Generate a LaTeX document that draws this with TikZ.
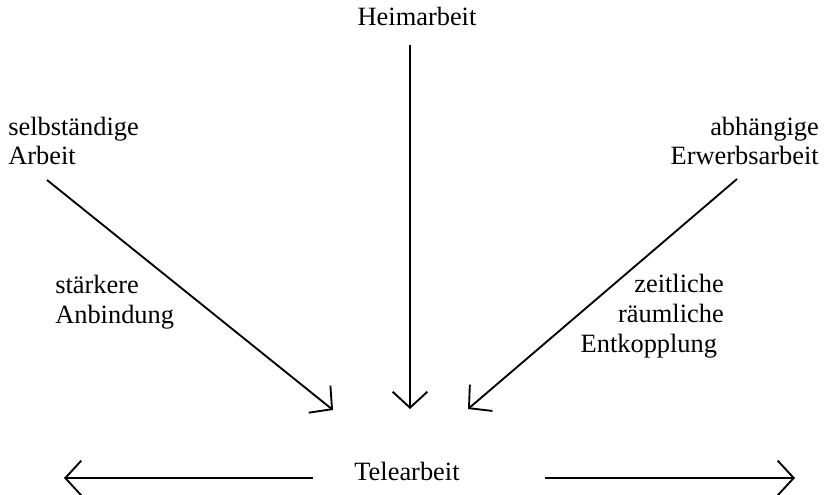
\documentclass[tikz,border=0pt]{standalone}
\usepackage{fontspec}
\setmainfont{Liberation Serif}
\usetikzlibrary{arrows.meta}

\tikzset{
  lbl/.style={inner sep=0pt, font=\fontsize{19.8}{22.2}\selectfont},
  pfeil/.style={black, line width=1.4pt, -{Straight Barb[length=12pt, width=26pt, line width=1.4pt]}}
}

\begin{document}
\begin{tikzpicture}[x=0.75pt, y=-0.75pt]
\useasboundingbox (0,0) rectangle (827,495);

% Texte (base = letzte Zeile)
\node[lbl, anchor=base] (heim) at (417,26) {Heimarbeit};
\node[lbl, anchor=base west, align=left] (selb) at (8,165) {selbständige\\Arbeit};
\node[lbl, anchor=base east, align=right] (abh) at (819,165) {abhängige\\Erwerbsarbeit};
\node[lbl, anchor=base west, align=left] (anb) at (55,323) {stärkere\\Anbindung};
\node[lbl, anchor=base east, align=right] (entk) at (724,352) {zeitliche\\räumliche\\Entkopplung\hspace*{5pt}};
\node[lbl, anchor=base] (tele) at (407,480) {Telearbeit};

% Enden der Pfeile
\coordinate (heim-a) at (410,45);
\coordinate (heim-e) at (410,409);
\coordinate (selb-a) at (47,180);
\coordinate (selb-e) at (333,410);
\coordinate (abh-a) at (737,179);
\coordinate (abh-e) at (468,409);
\coordinate (li-a) at (313,478);
\coordinate (li-e) at (64,478);
\coordinate (re-a) at (545,478);
\coordinate (re-e) at (795,478);

\draw[pfeil] (heim-a) -- (heim-e);
\draw[pfeil] (selb-a) -- (selb-e);
\draw[pfeil] (abh-a) -- (abh-e);
\draw[pfeil] (li-a) -- (li-e);
\draw[pfeil] (re-a) -- (re-e);
\end{tikzpicture}
\end{document}
